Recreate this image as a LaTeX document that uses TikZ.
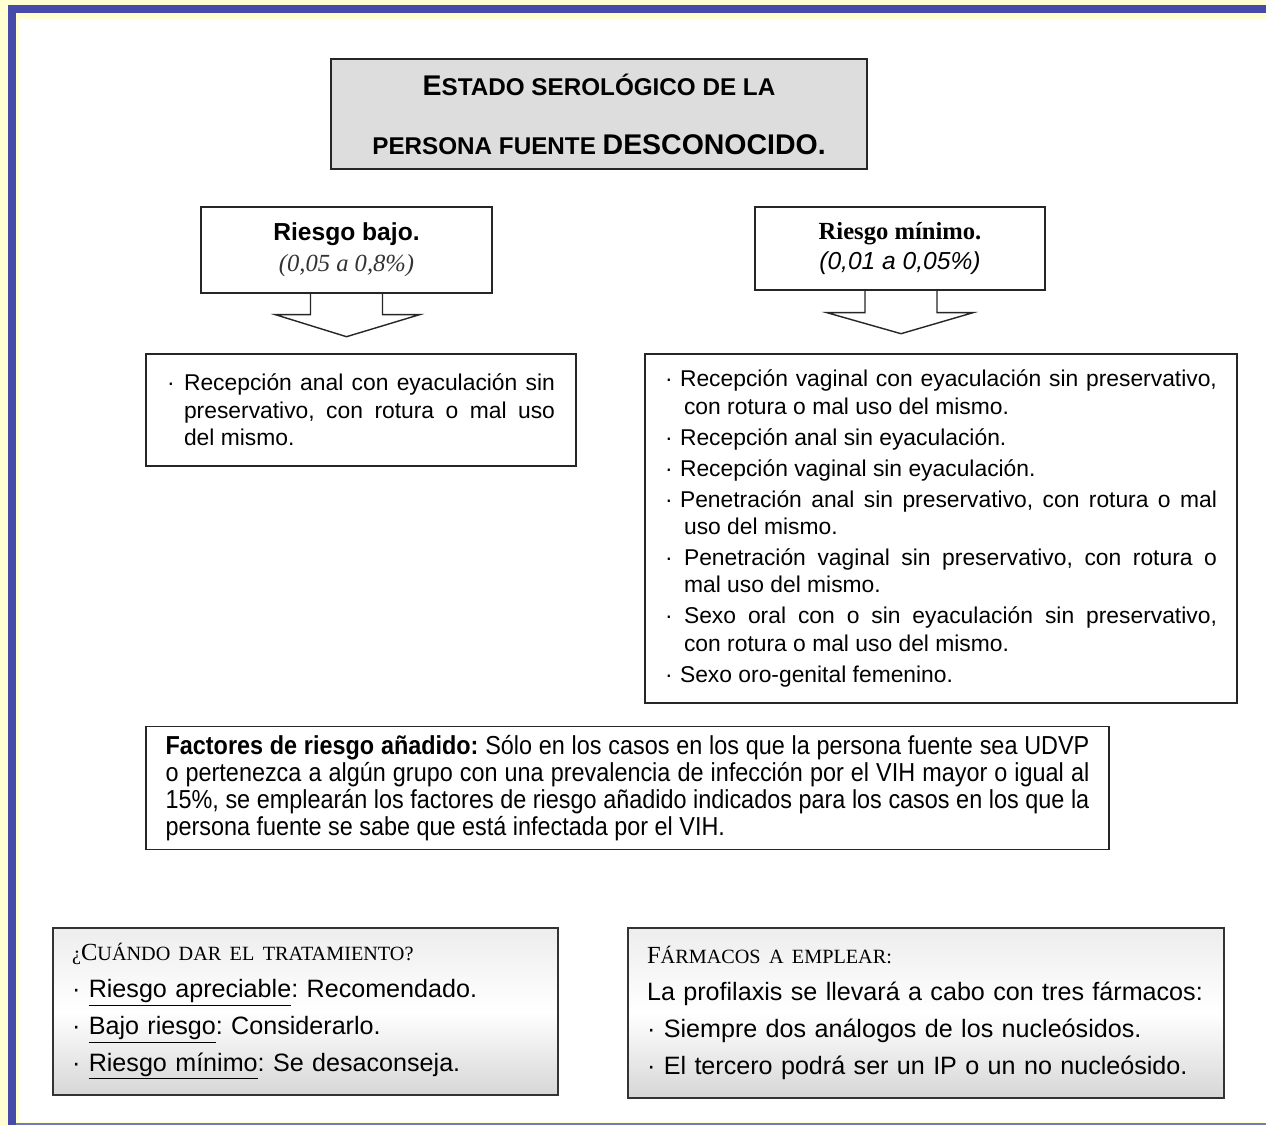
\documentclass[tikz,border=0pt]{standalone}
\usepackage{fontspec}
\setmainfont{Liberation Sans}
\newfontfamily\serifrm{Liberation Serif}
\newfontfamily\narrowsf[FakeStretch=0.9]{Liberation Sans}
\usetikzlibrary{calc}

\definecolor{pagebg}{HTML}{FFFFD2}
\definecolor{frameblue}{HTML}{464BAA}
\definecolor{titlegray}{HTML}{DDDDDD}

% list entries with a hanging dot
\newcommand{\dotitem}[3]{\noindent\hangindent=#2\hangafter=1\makebox[#1][l]{·}#3\par}

\begin{document}
\frenchspacing
\begin{tikzpicture}[x=0.02cm,y=-0.02cm]

% Define block styles
\tikzstyle{box} = [rectangle, draw=black!85, line width=0.8pt, fill=white, inner sep=0pt]
\tikzstyle{listbox} = [box, align=justify, font=\fontsize{13}{15.6}\selectfont]
\tikzstyle{shadebox} = [rectangle, draw=black!80, line width=1.1pt, top color=gray!14, bottom color=gray!32, middle color=white, inner sep=0pt, align=left, font=\fontsize{14.3}{21}\selectfont]
\tikzstyle{blockarrow} = [draw=black!85, line width=0.8pt, line join=miter]

% Page frame
\useasboundingbox (0,0) rectangle (1266,1125);
\fill[pagebg] (0,0) rectangle (1266,1125);
\fill[frameblue] (8,5) rectangle (1266,13);
\fill[frameblue] (8,5) rectangle (16,1125);
\fill[white] (19,19) rectangle (1266,1122);
\fill[frameblue!75] (16,1122.5) rectangle (1266,1125);

% Nodes
\node (estado) [box, fill=titlegray, line width=1pt, minimum width=10.72cm, minimum height=2.2cm, align=center, font=\bfseries\fontsize{13.8}{33.5}\selectfont] at (599,114)
  {\rule{0pt}{6pt}{\fontsize{16.2}{33.5}\selectfont E}STADO SEROLÓGICO DE LA\\
   PERSONA FUENTE {\fontsize{16.2}{33.5}\selectfont DESCONOCIDO.}};
\node (bajo) [box, minimum width=5.82cm, minimum height=1.72cm, align=center, font=\fontsize{14}{17.6}\selectfont] at (346.5,250)
  {{\bfseries Riesgo bajo.}\\{\serifrm\itshape\color{black!80} (0,05 a 0,8\%)}};
\node (minimo) [box, minimum width=5.8cm, minimum height=1.66cm, align=center, font=\fontsize{14}{17.6}\selectfont] at (900,248.5)
  {{\serifrm\bfseries Riesgo mínimo.}\\{\itshape (0,01 a 0,05\%)}};
\node (listabajo) [listbox, text width=7.76cm, minimum width=8.6cm, minimum height=2.24cm] at (361,410)
  {\dotitem{0.34cm}{0.34cm}{Recepción anal con eyaculación sin preservativo, con rotura o mal uso\linebreak del mismo.}};
\node (listaminimo) [listbox, text width=11.04cm, minimum width=11.84cm, minimum height=6.98cm] at (941,528.5)
  {\setlength{\parskip}{2pt}%
   \dotitem{0.3cm}{0.38cm}{Recepción vaginal con eyaculación sin preservativo,\linebreak con rotura o mal uso del mismo.}
   \dotitem{0.3cm}{0.38cm}{Recepción anal sin eyaculación.}
   \dotitem{0.3cm}{0.38cm}{Recepción vaginal sin eyaculación.}
   \dotitem{0.3cm}{0.38cm}{Penetración anal sin preservativo, con rotura o mal\linebreak uso del mismo.}
   \dotitem{0.38cm}{0.38cm}{Penetración vaginal sin preservativo, con rotura o\linebreak mal uso del mismo.}
   \dotitem{0.38cm}{0.38cm}{Sexo oral con o sin eyaculación sin preservativo,\linebreak con rotura o mal uso del mismo.}
   \dotitem{0.3cm}{0.38cm}{Sexo oro-genital femenino.}};
\node (factores) [box, align=justify, text width=18.48cm, minimum width=19.26cm, minimum height=2.46cm, font=\narrowsf\fontsize{14.8}{15.3}\selectfont] at (627.5,788)
  {\textbf{Factores de riesgo añadido:} Sólo en los casos en los que la persona fuente sea UDVP\linebreak o pertenezca a algún grupo con una prevalencia de infección por el VIH mayor o igual al\linebreak 15\%, se emplearán los factores de riesgo añadido indicados para los casos en los que la\linebreak persona fuente se sabe que está infectada por el VIH.};
\node (cuando) [shadebox, text width=9.34cm, minimum width=10.1cm, minimum height=3.34cm] at (305.5,1011.5)
  {{\serifrm\fontsize{11.5}{21}\selectfont ¿{\fontsize{14}{21}\selectfont C}UÁNDO DAR EL TRATAMIENTO?}\\
   · \underline{Riesgo apreciable}: Recomendado.\\
   · \underline{Bajo riesgo}: Considerarlo.\\
   · \underline{Riesgo mínimo}: Se desaconseja.};
\node (farmacos) [shadebox, text width=11.16cm, minimum width=11.92cm, minimum height=3.4cm] at (926,1013)
  {{\serifrm\fontsize{11.5}{21}\selectfont {\fontsize{14}{21}\selectfont F}ÁRMACOS A EMPLEAR:}\\
   La profilaxis se llevará a cabo con tres fármacos:\\
   · Siempre dos análogos de los nucleósidos.\\
   · El tercero podrá ser un IP o un no nucleósido.};

% Arrows
\draw [blockarrow] ($(bajo.south)+(-36,0)$) -- ++(0,21) -- ++(-35,0) -- ($(bajo.south)+(0,43)$) -- ($(bajo.south)+(73,21)$) -- ++(-37,0) -- ++(0,-21);
\draw [blockarrow] ($(minimo.south)+(-35,0)$) -- ++(0,22) -- ++(-38,0) -- ($(minimo.south)+(1,43)$) -- ($(minimo.south)+(73,22)$) -- ++(-36,0) -- ++(0,-22);

\end{tikzpicture}
\end{document}
